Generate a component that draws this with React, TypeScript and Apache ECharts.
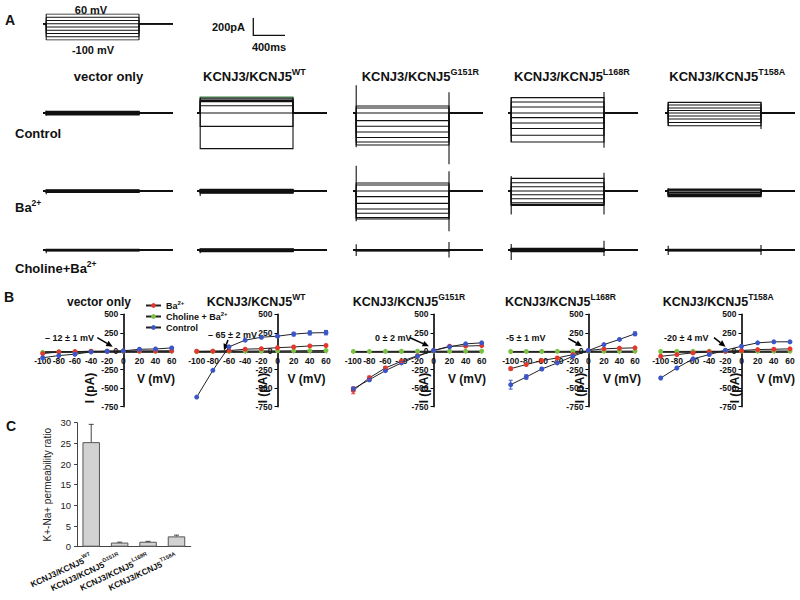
import React, { useEffect, useRef } from "react";
import * as echarts from "echarts";

const FONT = '"Liberation Sans", Arial, Helvetica, sans-serif';
const BLUE = "#3b56c9";
const RED = "#e3382b";
const GREEN = "#7dc143";
const INK = "#111";

// ---------------- Panel A: protocol and current traces ----------------
const protocolSteps = [-100, -80, -60, -40, -20, 0, 20, 40, 60]; // mV
const traceTimes = [0, 40, 1200, 1625]; // ms: start, step on, step off, end

// steady-state current level of each sweep (pA)
const vectorControlTrace = [20, 15, 10, 5, 0, -5, -10, -15, -22];
const vectorBaTrace = [12, 8, 4, 0, -3, -6, -9, -12, -15];
const vectorCholineTrace = [8, 5, 2, 0, -2, -4, -6, -8, -10];
const wtControlTrace = [178, 167, 155, 140, 126, 81, 0, -149, -396];
const wtBaTrace = [18, 14, 10, 6, 0, -6, -12, -18, -25];
const wtCholineTrace = [12, 8, 5, 0, -4, -8, -12, -16, -20];
const g151rControlTrace = [78, 55, 0, -85, -148, -211, -273, -322, -355];
const g151rBaTrace = [89, 67, 0, -62, -137, -200, -248, -296, -311];
const g151rCholineTrace = [6, 4, 2, 0, -2, -4, -6, -8, -10];
const l168rControlTrace = [171, 122, 67, 0, -51, -111, -173, -248, -322];
const l168rBaTrace = [140, 92, 48, 0, -41, -86, -130, -149, -160];
const l168rCholineTrace = [20, 15, 10, 5, 0, -5, -10, -15, -20];
const t158aControlTrace = [118, 89, 56, 28, 0, -33, -67, -106, -141];
const t158aBaTrace = [22, 15, 8, 0, -15, -30, -40, -50, -62];
const t158aCholineTrace = [8, 5, 2, 0, -2, -4, -6, -8, -10];

// capacitive transients: [on high, on low, off high, off low] (pA)
const vectorControlSpike = [25, -30, 15, -15];
const vectorBaSpike = [15, -35, 10, -10];
const vectorCholineSpike = [12, -35, 10, -10];
const wtControlSpike = [0, 0, 0, 0];
const wtBaSpike = [20, -55, 15, -15];
const wtCholineSpike = [15, -37, 20, -15];
const g151rControlSpike = [308, -381, 230, -570];
const g151rBaSpike = [280, -337, 219, -448];
const g151rCholineSpike = [63, -67, 89, -84];
const l168rControlSpike = [171, -322, 233, -385];
const l168rBaSpike = [167, -260, 203, -260];
const l168rCholineSpike = [67, -111, 103, -67];
const t158aControlSpike = [118, -141, 118, -178];
const t158aBaSpike = [30, -60, 22, -62];
const t158aCholineSpike = [48, -55, 55, -55];

// ---------------- Panel B: I-V curves ----------------
const voltages = [-100, -80, -60, -40, -20, 0, 20, 40, 60];
const ivXTicks = [-100, 60, 20];
const ivYTicks = [-750, 500, 250];

const vectorBaIV = [-31, -10, -5, 0, 0, 2, 3, 4, 5];
const vectorCholineIV = [-14, -8, -4, -2, 0, 1, 2, 2, 3];
const vectorControlIV = [-88, -58, -40, -8, 0, 5, 27, 31, 45];
const wtBaIV = [0, 2, 8, 28, 35, 48, 58, 72, 78];
const wtCholineIV = [-3, -2, 0, 2, 4, 5, 6, 8, 10];
const wtControlIV = [-620, -258, 60, 150, 190, 204, 232, 248, 252];
const g151rBaIV = [-530, -360, -226, -136, -60, 10, 68, 70, 77];
const g151rCholineIV = [-2, -2, -1, 0, 0, 1, 1, 2, 2];
const g151rControlIV = [-507, -385, -262, -158, -68, 10, 60, 100, 114];
const l168rBaIV = [-235, -180, -126, -90, -45, 10, 33, 41, 46];
const l168rCholineIV = [-3, -2, -2, -1, 0, 1, 1, 2, 2];
const l168rControlIV = [-452, -348, -240, -158, -68, 10, 90, 160, 236];
const t158aBaIV = [-68, -45, -22, -8, 0, 10, 23, 27, 33];
const t158aCholineIV = [-3, -2, -1, 0, 0, 1, 2, 3, 4];
const t158aControlIV = [-362, -226, -103, -45, 14, 68, 114, 128, 128];

// SEM (pA)
const zeroErr = [0, 0, 0, 0, 0, 0, 0, 0, 0];
const wtControlErr = [0, 0, 0, 0, 10, 15, 25, 28, 30];
const g151rBaErr = [45, 25, 15, 15, 0, 0, 0, 0, 0];
const g151rControlErr = [20, 15, 10, 0, 0, 0, 0, 0, 0];
const l168rControlErr = [60, 30, 15, 0, 0, 0, 0, 0, 25];
const l168rBaErr = [20, 0, 0, 0, 0, 0, 0, 0, 0];

const reversalLabels = ["\u2013 12 \u00b1 1 mV", "\u2013 65 \u00b1 2 mV", "0 \u00b1 2 mV", "-5 \u00b1 1 mV", "-20 \u00b1 4 mV"];

// ---------------- Panel C: permeability ratio ----------------
const ratioCategories = ["WT", "G151R", "L168R", "T158A"];
const ratioValues = [25.3, 1.0, 1.2, 2.5];
const ratioErrors = [4.3, 0.1, 0.1, 0.3];
const ratioTicks = [0, 30, 5];

const sup = (m: string, s: string) => `{m|${m}}{s|${s}}`;

function richStyle(size: number, supSize: number, weight: string = "bold") {
  return {
    m: { fontFamily: FONT, fontSize: size, fontWeight: weight, fill: INK, color: INK, lineHeight: size + 5 },
    s: { fontFamily: FONT, fontSize: supSize, fontWeight: weight, fill: INK, color: INK, lineHeight: supSize + 1, verticalAlign: "top" },
  };
}

function txt(x: number, y: number, text: string, o: any = {}) {
  return {
    type: "text",
    x,
    y,
    rotation: o.rotation || 0,
    silent: true,
    style: {
      text,
      fontFamily: FONT,
      fontSize: o.size || 12,
      fontWeight: o.weight || "bold",
      fill: o.fill || INK,
      align: o.align || "left",
      verticalAlign: "middle",
      textAlign: o.align || "left",
      textVerticalAlign: "middle",
      rich: o.rich,
    },
  };
}

function arrow(x1: number, y1: number, x2: number, y2: number) {
  const a = Math.atan2(y2 - y1, x2 - x1);
  const L = 6.5;
  const W = 3;
  const bx = x2 - L * Math.cos(a);
  const by = y2 - L * Math.sin(a);
  const px = -Math.sin(a) * W;
  const py = Math.cos(a) * W;
  return [
    { type: "line", silent: true, shape: { x1, y1, x2: bx, y2: by }, style: { stroke: "#000", lineWidth: 1.5 } },
    {
      type: "polygon",
      silent: true,
      shape: { points: [[x2, y2], [bx + px, by + py], [bx - px, by - py]] },
      style: { fill: "#000" },
    },
  ];
}

function buildOption() {
  const grids: any[] = [];
  const xAxes: any[] = [];
  const yAxes: any[] = [];
  const series: any[] = [];
  const graphics: any[] = [];

  const addGrid = (g: any, x: any, y: any) => {
    const i = grids.length;
    grids.push(g);
    xAxes.push({ ...x, gridIndex: i });
    yAxes.push({ ...y, gridIndex: i });
    return i;
  };
  const hidden = { show: false, splitLine: { show: false } };
  const [t0, tOn, tOff, tEnd] = traceTimes;

  // protocol
  const gp = addGrid(
    { left: 43, top: 14, width: 130, height: 26 },
    { type: "value", min: t0, max: tEnd, ...hidden },
    { type: "value", min: -100, max: 60, ...hidden }
  );
  series.push({
    type: "lines",
    coordinateSystem: "cartesian2d",
    xAxisIndex: gp,
    yAxisIndex: gp,
    polyline: true,
    silent: true,
    lineStyle: { color: "#111", width: 1, opacity: 1 },
    data: protocolSteps.map((v) => ({ coords: [[t0, 0], [tOn, 0], [tOn, v], [tOff, v], [tOff, 0], [tEnd, 0]] })),
  });

  // traces
  const PX_PER_PA = 18 / 200;
  const half = 70 / PX_PER_PA;
  const traceColX = [43, 197, 353, 508, 665];
  const traceRowBase = [113, 191, 250];
  const traceCells = [
    [[vectorControlTrace, vectorControlSpike], [vectorBaTrace, vectorBaSpike], [vectorCholineTrace, vectorCholineSpike]],
    [[wtControlTrace, wtControlSpike], [wtBaTrace, wtBaSpike], [wtCholineTrace, wtCholineSpike]],
    [[g151rControlTrace, g151rControlSpike], [g151rBaTrace, g151rBaSpike], [g151rCholineTrace, g151rCholineSpike]],
    [[l168rControlTrace, l168rControlSpike], [l168rBaTrace, l168rBaSpike], [l168rCholineTrace, l168rCholineSpike]],
    [[t158aControlTrace, t158aControlSpike], [t158aBaTrace, t158aBaSpike], [t158aCholineTrace, t158aCholineSpike]],
  ];
  traceCells.forEach((col, ci) => {
    col.forEach(([levels, spk], ri) => {
      const g = addGrid(
        { left: traceColX[ci], top: traceRowBase[ri] - 70, width: 130, height: 140 },
        { type: "value", min: t0, max: tEnd, ...hidden },
        { type: "value", min: -half, max: half, ...hidden }
      );
      const data: any[] = levels.map((L: number, k: number) => {
        const item: any = { coords: [[t0, 0], [tOn, 0], [tOn, L], [tOff, L], [tOff, 0], [tEnd, 0]] };
        if (ci === 1 && ri === 0 && k === 0) item.lineStyle = { color: "#2f8a3c" };
        return item;
      });
      data.push({ coords: [[tOn, spk[0]], [tOn, spk[1]]] });
      data.push({ coords: [[tOff, spk[2]], [tOff, spk[3]]] });
      series.push({
        type: "lines",
        coordinateSystem: "cartesian2d",
        xAxisIndex: g,
        yAxisIndex: g,
        polyline: true,
        silent: true,
        lineStyle: { color: "#111", width: 1.1, opacity: 1 },
        data,
      });
    });
  });

  // IV plots
  const ivTop = 314.3;
  const ivHeight = 92.4;
  const ivLayout = [
    { left: 42.7, width: 129 },
    { left: 196.7, width: 129.3 },
    { left: 353.3, width: 128.4 },
    { left: 510.7, width: 124.3 },
    { left: 660.7, width: 129.3 },
  ];
  const ivData = [
    { ba: vectorBaIV, ch: vectorCholineIV, ctl: vectorControlIV, baErr: zeroErr, ctlErr: zeroErr },
    { ba: wtBaIV, ch: wtCholineIV, ctl: wtControlIV, baErr: zeroErr, ctlErr: wtControlErr },
    { ba: g151rBaIV, ch: g151rCholineIV, ctl: g151rControlIV, baErr: g151rBaErr, ctlErr: g151rControlErr },
    { ba: l168rBaIV, ch: l168rCholineIV, ctl: l168rControlIV, baErr: l168rBaErr, ctlErr: l168rControlErr },
    { ba: t158aBaIV, ch: t158aCholineIV, ctl: t158aControlIV, baErr: zeroErr, ctlErr: zeroErr },
  ];
  const axisLbl = { fontFamily: FONT, fontSize: 8.5, fontWeight: "bold", color: INK };
  const errSeries = (gi: number, vals: number[], errs: number[], color: string) => ({
    type: "custom",
    coordinateSystem: "cartesian2d",
    xAxisIndex: gi,
    yAxisIndex: gi,
    silent: true,
    z: 5,
    data: voltages.map((v, k) => [v, vals[k] - errs[k], vals[k] + errs[k]]).filter((_, k) => errs[k] > 0),
    renderItem: (params: any, api: any) => {
      const x = api.value(0);
      const p1 = api.coord([x, api.value(1)]);
      const p2 = api.coord([x, api.value(2)]);
      const st = { stroke: color, lineWidth: 1 };
      return {
        type: "group",
        children: [
          { type: "line", shape: { x1: p1[0], y1: p1[1], x2: p2[0], y2: p2[1] }, style: st },
          { type: "line", shape: { x1: p1[0] - 2, y1: p1[1], x2: p1[0] + 2, y2: p1[1] }, style: st },
          { type: "line", shape: { x1: p2[0] - 2, y1: p2[1], x2: p2[0] + 2, y2: p2[1] }, style: st },
        ],
      };
    },
  });
  ivLayout.forEach((lay, i) => {
    // place each axis through the origin of the other one
    const xOffset = -ivHeight * (0 - ivYTicks[0]) / (ivYTicks[1] - ivYTicks[0]);
    const yOffset = -lay.width * (0 - ivXTicks[0]) / (ivXTicks[1] - ivXTicks[0]);
    const gi = addGrid(
      { left: lay.left, width: lay.width, top: ivTop, height: ivHeight },
      {
        type: "value",
        position: "bottom",
        offset: xOffset,
        min: ivXTicks[0],
        max: ivXTicks[1],
        interval: ivXTicks[2],
        axisLine: { onZero: false, lineStyle: { color: "#000", width: 1.6 } },
        axisTick: { show: true, length: 2, lineStyle: { color: "#000" } },
        axisLabel: { ...axisLbl, margin: 5, showMinLabel: true, showMaxLabel: true },
        splitLine: { show: false },
      },
      {
        type: "value",
        position: "left",
        offset: yOffset,
        min: ivYTicks[0],
        max: ivYTicks[1],
        interval: ivYTicks[2],
        axisLine: { onZero: false, lineStyle: { color: "#000", width: 1.6 } },
        axisTick: { show: true, length: 3, lineStyle: { color: "#000" } },
        axisLabel: { ...axisLbl, margin: 5, showMinLabel: true, showMaxLabel: true },
        splitLine: { show: false },
      }
    );
    const d = ivData[i];
    const mk = (name: string, vals: number[], color: string, z: number) => ({
      type: "line",
      name,
      xAxisIndex: gi,
      yAxisIndex: gi,
      data: voltages.map((v, k) => [v, vals[k]]),
      symbol: "circle",
      symbolSize: 5,
      showAllSymbol: true,
      lineStyle: { color: "#222", width: 1 },
      itemStyle: { color },
      z,
      silent: true,
    });
    series.push(mk("Ba2+", d.ba, RED, 3));
    series.push(mk("Choline + Ba2+", d.ch, GREEN, 2));
    series.push(mk("Control", d.ctl, BLUE, 4));
    series.push(errSeries(gi, d.ba, d.baErr, RED));
    series.push(errSeries(gi, d.ctl, d.ctlErr, BLUE));
  });

  // bar chart
  const gb = addGrid(
    { left: 77, top: 422.7, width: 113.7, height: 124 },
    {
      type: "category",
      data: ratioCategories,
      axisLine: { lineStyle: { color: "#444", width: 1 } },
      axisTick: { show: false },
      axisLabel: {
        rotate: 25,
        margin: 10,
        interval: 0,
        formatter: (v: string) => sup("KCNJ3/KCNJ5", v),
        rich: richStyle(8.5, 5.5),
      },
    },
    {
      type: "value",
      min: ratioTicks[0],
      max: ratioTicks[1],
      interval: ratioTicks[2],
      axisLine: { show: true, lineStyle: { color: "#444", width: 1 } },
      axisTick: { show: true, length: 3, lineStyle: { color: "#444" } },
      axisLabel: { fontFamily: FONT, fontSize: 9.5, color: "#222", margin: 6 },
      splitLine: { show: false },
      name: "K+-Na+ permeability ratio",
      nameLocation: "middle",
      nameRotate: 90,
      nameGap: 25,
      nameTextStyle: { fontFamily: FONT, fontSize: 10, color: "#222" },
    }
  );
  series.push({
    type: "bar",
    xAxisIndex: gb,
    yAxisIndex: gb,
    data: ratioValues,
    barWidth: 17.5,
    silent: true,
    itemStyle: { color: "#d2d2d2", borderColor: "#555", borderWidth: 1 },
  });
  series.push({
    type: "custom",
    coordinateSystem: "cartesian2d",
    xAxisIndex: gb,
    yAxisIndex: gb,
    silent: true,
    z: 5,
    data: ratioValues.map((v, i) => [i, v, v + ratioErrors[i]]),
    renderItem: (params: any, api: any) => {
      const p1 = api.coord([api.value(0), api.value(1)]);
      const p2 = api.coord([api.value(0), api.value(2)]);
      const st = { stroke: "#444", lineWidth: 1 };
      return {
        type: "group",
        children: [
          { type: "line", shape: { x1: p1[0], y1: p1[1], x2: p2[0], y2: p2[1] }, style: st },
          { type: "line", shape: { x1: p2[0] - 2.5, y1: p2[1], x2: p2[0] + 2.5, y2: p2[1] }, style: st },
        ],
      };
    },
  });

  // ---------- texts ----------
  graphics.push(txt(5, 20, "A", { size: 14 }));
  graphics.push(txt(4, 297, "B", { size: 14 }));
  graphics.push(txt(6, 426, "C", { size: 14 }));

  graphics.push(txt(91, 10, "60 mV", { size: 11, align: "center" }));
  graphics.push(txt(93, 49.5, "-100 mV", { size: 11, align: "center" }));
  graphics.push(txt(245, 27.3, "200pA", { size: 11, align: "right" }));
  graphics.push(txt(269, 47.3, "400ms", { size: 11, align: "center" }));
  graphics.push({ type: "polyline", silent: true, shape: { points: [[253.3, 18], [253.3, 35.3], [285, 35.3]] }, style: { stroke: "#111", lineWidth: 1.3, fill: null } });

  const rA = richStyle(13, 9);
  graphics.push(txt(108.5, 76, "vector only", { size: 13, align: "center" }));
  graphics.push(txt(203, 76, sup("KCNJ3/KCNJ5", "WT"), { rich: rA }));
  graphics.push(txt(361.7, 76, sup("KCNJ3/KCNJ5", "G151R"), { rich: rA }));
  graphics.push(txt(514, 76, sup("KCNJ3/KCNJ5", "L168R"), { rich: rA }));
  graphics.push(txt(669.3, 76, sup("KCNJ3/KCNJ5", "T158A"), { rich: rA }));

  const rRow = richStyle(13, 8.5);
  graphics.push(txt(15, 133, "Control", { size: 13 }));
  graphics.push(txt(15, 207, sup("Ba", "2+"), { rich: rRow }));
  graphics.push(txt(15, 268.5, sup("Choline+Ba", "2+"), { rich: rRow }));

  const rB = richStyle(12.5, 8.5);
  graphics.push(txt(99, 301.5, "vector only", { size: 12, align: "center" }));
  graphics.push(txt(206.7, 301.5, sup("KCNJ3/KCNJ5", "WT"), { rich: rB }));
  graphics.push(txt(352.7, 301.5, sup("KCNJ3/KCNJ5", "G151R"), { rich: rB }));
  graphics.push(txt(505, 301.5, sup("KCNJ3/KCNJ5", "L168R"), { rich: rB }));
  graphics.push(txt(662.7, 301.5, sup("KCNJ3/KCNJ5", "T158A"), { rich: rB }));

  const vLabelX = [156, 306.5, 467, 622, 776];
  const iLabelX = [90, 263, 424, 580, 735];
  vLabelX.forEach((x) => graphics.push(txt(x, 379.3, "V (mV)", { size: 12, align: "center" })));
  iLabelX.forEach((x) => graphics.push(txt(x, 388, "I (pA)", { size: 12, align: "center", rotation: Math.PI / 2 })));

  const annX = [45, 208, 375, 506, 664];
  const annY = [337.7, 335, 338.3, 338.3, 337.7];
  reversalLabels.forEach((s, i) => graphics.push(txt(annX[i], annY[i], s, { size: 9 })));
  const arrows = [
    [97.3, 337.7, 112.7, 346.7],
    [228, 340, 224, 350.5],
    [410, 337.7, 429, 346.3],
    [568.3, 338.3, 582, 346.3],
    [714, 337.7, 725.5, 346.7],
  ];
  arrows.forEach((a) => graphics.push(...arrow(a[0], a[1], a[2], a[3])));

  const legendRich = richStyle(9, 6);
  return {
    animation: false,
    backgroundColor: "#fff",
    textStyle: { fontFamily: FONT },
    grid: grids,
    xAxis: xAxes,
    yAxis: yAxes,
    series,
    legend: {
      data: ["Ba2+", "Choline + Ba2+", "Control"],
      orient: "vertical",
      left: 140,
      top: 295,
      itemWidth: 15,
      itemHeight: 6,
      itemGap: 0,
      selectedMode: false,
      formatter: (n: string) =>
        n === "Ba2+" ? sup("Ba", "2+") : n === "Choline + Ba2+" ? sup("Choline + Ba", "2+") : `{m|${n}}`,
      textStyle: {
        fontFamily: FONT,
        fontSize: 9,
        fontWeight: "bold",
        color: INK,
        lineHeight: 11,
        padding: [0, 0, 0, 0],
        rich: { m: { ...legendRich.m, lineHeight: 11 }, s: legendRich.s },
      },
    },
    graphic: { elements: graphics },
  };
}

export default function App() {
  const ref = useRef<HTMLDivElement>(null);
  useEffect(() => {
    document.body.style.margin = "0";
    const chart = echarts.init(ref.current!, null, { renderer: "svg" });
    chart.setOption(buildOption() as any);
    return () => chart.dispose();
  }, []);
  return <div ref={ref} style={{ width: 800, height: 600, background: "#fff" }} />;
}
